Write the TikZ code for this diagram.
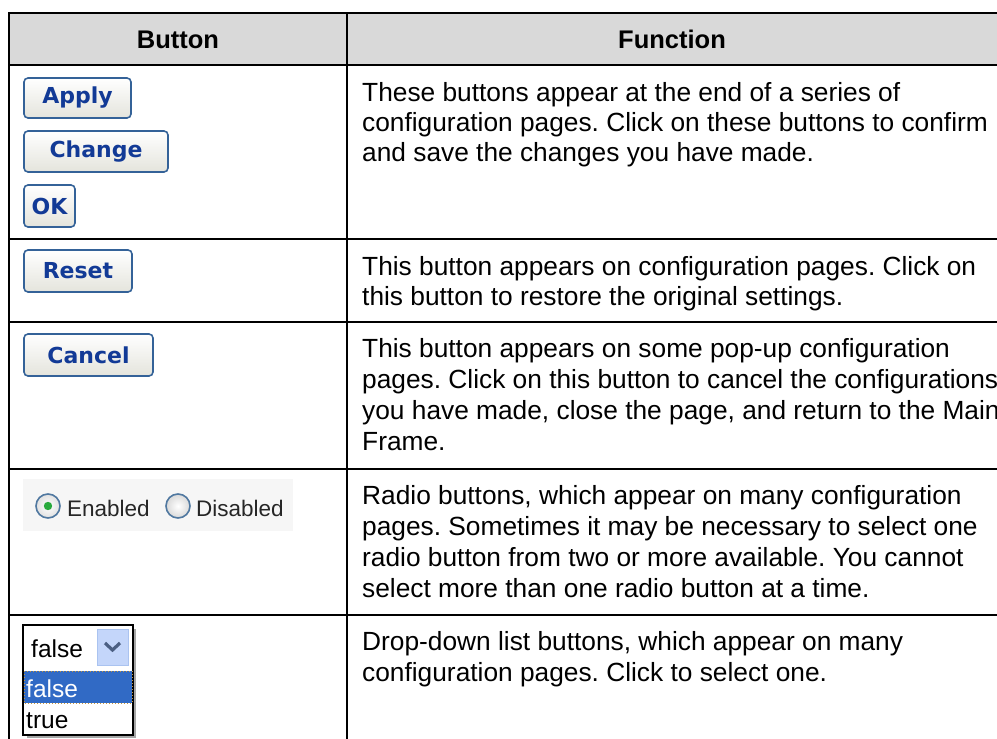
\documentclass[tikz,border=0pt]{standalone}
\usepackage{fontspec}
\setmainfont{Liberation Sans}
\newfontfamily\btnfont{DejaVu Sans}
\usetikzlibrary{shapes.geometric}
\frenchspacing
\definecolor{hdr}{RGB}{217,217,217}
\definecolor{btnborder}{RGB}{52,98,152}
\definecolor{btntext}{RGB}{18,58,150}
\definecolor{btnbot}{RGB}{228,228,220}
\definecolor{radiobg}{RGB}{246,246,246}
\definecolor{radioring}{RGB}{80,120,160}
\definecolor{radiogreen}{RGB}{40,170,60}
\definecolor{selblue}{RGB}{49,106,197}
\definecolor{arrowbg}{RGB}{196,214,250}
\definecolor{arrowbd}{RGB}{170,195,240}
\definecolor{chev}{RGB}{75,95,130}
\definecolor{dotor}{RGB}{200,150,60}
\tikzset{
  grid/.style={line width=2pt, black},
  txt/.style={anchor=base west, inner sep=0pt, font=\fontsize{26.3}{30}\selectfont},
  head/.style={anchor=base, inner sep=0pt, font=\fontsize{25.5}{30}\selectfont\bfseries},
  btn/.style={draw=btnborder, line width=1.6pt, rounded corners=4pt, top color=white, bottom color=btnbot,
    text=btntext, font=\btnfont\bfseries\fontsize{22}{26}\selectfont, inner sep=0pt},
  rtxt/.style={anchor=base west, inner sep=0pt, text=black!85, font=\fontsize{22.5}{26}\selectfont},
  dtxt/.style={anchor=base west, inner sep=0pt, font=\fontsize{24.5}{28}\selectfont},
}
\begin{document}
\begin{tikzpicture}[x=1pt,y=-1pt]
\useasboundingbox (0,0) rectangle (997,739);
\clip (0,0) rectangle (997,739);
% header
\fill[hdr] (9,13) rectangle (1010,65);
% grid
\draw[grid] (1010,13) -- (9,13) -- (9,750);
\draw[grid] (9,65) -- (1010,65);
\draw[grid] (9,239) -- (1010,239);
\draw[grid] (9,322) -- (1010,322);
\draw[grid] (9,469) -- (1010,469);
\draw[grid] (9,615) -- (1010,615);
\draw[line width=1.6pt] (347,13) -- (347,750);
\node[head] (h1) at (178,48) {Button};
\node[head] (h2) at (672,48) {Function};
% buttons
\node[btn, minimum width=107pt, minimum height=40pt] (apply) at (77.5,98) {Apply};
\node[btn, minimum width=144pt, minimum height=41pt] (change) at (96,151.5) {Change};
\node[btn, minimum width=51pt, minimum height=42pt] (ok) at (49.5,206) {OK};
\node[btn, minimum width=108pt, minimum height=42pt] (reset) at (78,271) {Reset};
\node[btn, minimum width=129pt, minimum height=42pt] (cancel) at (88.5,355) {Cancel};
% radio
\fill[radiobg] (23,479) rectangle (293,531);
\shade[inner color=white, outer color=black!12] (48,506) circle (12pt);
\draw[radioring, line width=1.6pt] (48,506) circle (12pt);
\fill[radiogreen] (48,506) circle (4.2pt);
\node[rtxt] (en) at (67,516) {Enabled};
\shade[inner color=white, outer color=black!15] (178,506) circle (12pt);
\draw[radioring, line width=1.6pt] (178,506) circle (12pt);
\node[rtxt] (dis) at (196,516) {Disabled};
% dropdown
\fill[black!35] (27,629) rectangle (136,738);
\fill[white] (23,625) rectangle (133,735);
\draw[line width=2pt] (23,625) rectangle (133,735);
\fill[arrowbg] (97,629) rectangle (128,665);
\draw[arrowbd, line width=1pt] (97,629) rectangle (128,665);
\draw[chev, line width=3.2pt] (105,643) -- (112.5,650) -- (120,643);
\node[dtxt] (dsel) at (31,657) {false};
\fill[selblue] (24,671) rectangle (132,703);
\draw[dotor, line width=1pt, dotted] (24,671) rectangle (132,703);
\node[dtxt, text=white] (dfalse) at (26,697) {false};
\node[dtxt] (dtrue) at (26,728) {true};
% row texts
\node[txt] (a1) at (362,101) {These buttons appear at the end of a series of};
\node[txt] (a2) at (362,131) {configuration pages. Click on these buttons to confirm};
\node[txt] (a3) at (362,161) {and save the changes you have made.};
\node[txt] (b1) at (362,275) {This button appears on configuration pages. Click on};
\node[txt] (b2) at (362,305) {this button to restore the original settings.};
\node[txt] (c1) at (362,357) {This button appears on some pop-up configuration};
\node[txt] (c2) at (362,388) {pages. Click on this button to cancel the configurations};
\node[txt] (c3) at (362,419) {you have made, close the page, and return to the Main};
\node[txt] (c4) at (362,450) {Frame.};
\node[txt] (d1) at (362,504) {Radio buttons, which appear on many configuration};
\node[txt] (d2) at (362,535) {pages. Sometimes it may be necessary to select one};
\node[txt] (d3) at (362,566) {radio button from two or more available. You cannot};
\node[txt] (d4) at (362,597) {select more than one radio button at a time.};
\node[txt] (e1) at (362,650) {Drop-down list buttons, which appear on many};
\node[txt] (e2) at (362,681) {configuration pages. Click to select one.};
\end{tikzpicture}
\end{document}
